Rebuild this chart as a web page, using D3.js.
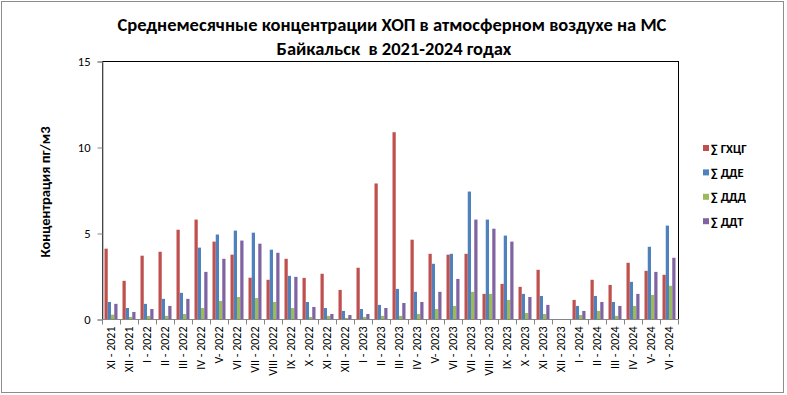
<!DOCTYPE html>
<html>
<head>
<meta charset="utf-8">
<script src="https://cdn.jsdelivr.net/npm/d3@7"></script>
<style>
  body { margin: 0; background: #fff; }
  svg text { font-family: Calibri, Carlito, Lato, sans-serif; }
</style>
</head>
<body>
<div id="chart"></div>
<script>
var months = ["XI - 2021", "XII - 2021", "I - 2022", "II - 2022", "III - 2022", "IV - 2022", "V- 2022", "VI - 2022",
  "VII - 2022", "VIII - 2022", "IX - 2022", "X - 2022", "XI - 2022", "XII - 2022", "I - 2023", "II - 2023",
  "III - 2023", "IV - 2023", "V- 2023", "VI - 2023", "VII - 2023", "VIII - 2023", "IX - 2023", "X - 2023",
  "XI - 2023", "XII - 2023", "I - 2024", "II - 2024", "III - 2024", "IV - 2024", "V- 2024", "VI - 2024"];

var seriesNames = ["∑ ГХЦГ", "∑ ДДЕ", "∑ ДДД", "∑ ДДТ"];

var gxcg = [4.09, 2.22, 3.68, 3.91, 5.19, 5.78, 4.5, 3.74, 2.4, 2.28, 3.5, 2.39, 2.63, 1.69, 2.98, 7.88,
  10.86, 4.61, 3.79, 3.74, 3.79, 1.46, 2.04, 1.87, 2.86, null, 1.11, 2.28, 1.98, 3.27, 2.8, 2.57];
var dde = [0.99, 0.64, 0.88, 1.17, 1.52, 4.15, 4.91, 5.14, 5.02, 4.03, 2.51, 0.99, 0.64, 0.47, 0.58, 0.82,
  1.75, 1.58, 3.21, 3.79, 7.41, 5.78, 4.85, 1.46, 1.34, null, 0.76, 1.34, 0.99, 2.16, 4.2, 5.43];
var ddd = [0.25, 0.12, 0.18, 0.18, 0.29, 0.64, 1.05, 1.28, 1.22, 0.99, 0.64, 0.12, 0.18, 0.06, 0.12, 0.18,
  0.18, 0.29, 0.58, 0.76, 1.58, 1.46, 1.11, 0.35, 0.29, null, 0.23, 0.47, 0.18, 0.76, 1.4, 1.93];
var ddt = [0.88, 0.41, 0.58, 0.76, 1.17, 2.74, 3.5, 4.56, 4.38, 3.85, 2.45, 0.7, 0.29, 0.23, 0.29, 0.64,
  0.93, 0.99, 1.58, 2.33, 5.78, 5.25, 4.5, 1.28, 0.82, null, 0.47, 0.99, 0.76, 1.46, 2.74, 3.56];

var yTicks = [0, 5, 10, 15];
var colors = ["#C0504D", "#4F81BD", "#9BBB59", "#8064A2"];

var W = 787, H = 395;
var plot = {left: 102, right: 678, top: 61, bottom: 319};

var svg = d3.select("#chart").append("svg")
  .attr("width", W)
  .attr("height", H);

// outer chart frame
svg.append("rect")
  .attr("x", 1.5).attr("y", 1.5)
  .attr("width", 782).attr("height", 391)
  .attr("fill", "#fff")
  .attr("stroke", "#8c8c8c");

var values = [gxcg, dde, ddd, ddt];
var rows = months.map(function(m, i) {
  return {month: m, vals: values.map(function(s, k) { return {key: seriesNames[k], v: s[i], k: k}; })};
});

var x0 = d3.scaleBand()
  .domain(months)
  .range([plot.left, plot.right]);

var x1 = d3.scaleBand()
  .domain(seriesNames)
  .range([2.5, x0.bandwidth() - 2.5]);

var y = d3.scaleLinear()
  .domain([0, 15])
  .range([plot.bottom, plot.top]);

// plot area border
svg.append("rect")
  .attr("x", plot.left + 0.5).attr("y", plot.top + 0.5)
  .attr("width", plot.right - plot.left).attr("height", plot.bottom - plot.top)
  .attr("fill", "none")
  .attr("stroke", "#000");

// bars
svg.append("g")
  .selectAll("g")
  .data(rows)
  .enter().append("g")
    .attr("transform", function(d) { return "translate(" + x0(d.month) + ",0)"; })
  .selectAll("rect")
  .data(function(d) { return d.vals.filter(function(e) { return e.v != null; }); })
  .enter().append("rect")
    .attr("x", function(d) { return x1(d.key); })
    .attr("y", function(d) { return y(d.v); })
    .attr("width", x1.bandwidth())
    .attr("height", function(d) { return plot.bottom - y(d.v); })
    .attr("fill", function(d) { return colors[d.k]; });

// y axis
var yAxis = svg.append("g")
  .attr("transform", "translate(" + (plot.left + 0.5) + ",0.5)")
  .call(d3.axisLeft(y).tickValues(yTicks).tickSize(5).tickPadding(7));
yAxis.select(".domain").attr("stroke", "#868686");
yAxis.selectAll(".tick line").attr("stroke", "#868686");
yAxis.selectAll("text")
  .attr("fill", "#000")
  .style("font-size", "12.5px");

// x axis, ticks sit between categories
var xAxis = svg.append("g")
  .attr("transform", "translate(0," + (plot.bottom + 0.5) + ")");
xAxis.append("line")
  .attr("x1", plot.left).attr("x2", plot.right + 1)
  .attr("stroke", "#868686");
xAxis.selectAll(".sep")
  .data(months.concat(["end"]))
  .enter().append("line")
    .attr("class", "sep")
    .attr("x1", function(d, i) { return plot.left + 0.5 + i * x0.step(); })
    .attr("x2", function(d, i) { return plot.left + 0.5 + i * x0.step(); })
    .attr("y1", 0).attr("y2", 5)
    .attr("stroke", "#868686");
xAxis.selectAll(".lbl")
  .data(months)
  .enter().append("text")
    .attr("class", "lbl")
    .attr("transform", function(d) {
      return "translate(" + (x0(d) + x0.bandwidth() / 2 + 4) + ",7) rotate(-90)";
    })
    .attr("text-anchor", "end")
    .style("font-size", "12px")
    .text(function(d) { return d; });

// y axis title
svg.append("text")
  .attr("transform", "translate(50,192) rotate(-90)")
  .attr("text-anchor", "middle")
  .style("font-size", "14.5px")
  .style("font-weight", "bold")
  .text("Концентрация пг/м3");

// title
var title = svg.append("text")
  .attr("text-anchor", "middle")
  .attr("xml:space", "preserve")
  .style("font-size", "18.5px")
  .style("font-weight", "bold");
title.append("tspan").attr("x", 392).attr("y", 31)
  .text("Среднемесячные концентрации ХОП в атмосферном воздухе на МС");
title.append("tspan").attr("x", 394).attr("y", 55)
  .text("Байкальск  в 2021-2024 годах");

// legend
var legend = svg.append("g")
  .selectAll("g")
  .data(seriesNames)
  .enter().append("g")
    .attr("transform", function(d, i) { return "translate(703," + (148 + i * 24.4) + ")"; });
legend.append("rect")
  .attr("x", 0).attr("y", -3)
  .attr("width", 6).attr("height", 6)
  .attr("fill", function(d, i) { return colors[i]; });
legend.append("text")
  .attr("x", 8).attr("y", 4.5)
  .style("font-size", "12.5px")
  .style("font-weight", "bold")
  .text(function(d) { return d; });
</script>
</body>
</html>
